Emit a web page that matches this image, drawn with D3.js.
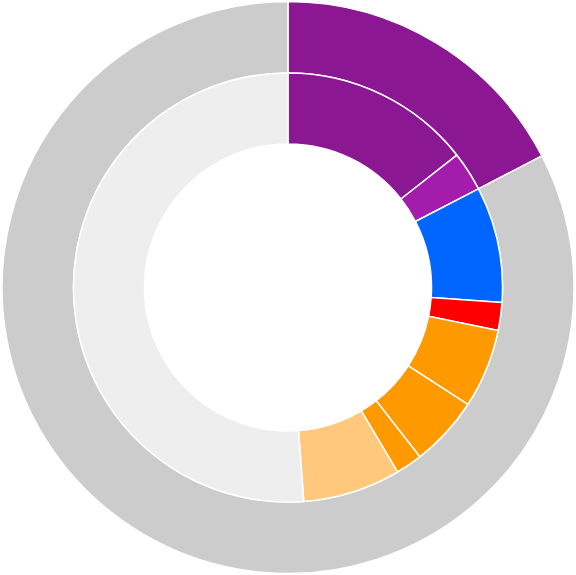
<!DOCTYPE html>
<html><head><meta charset="utf-8">
<script src="https://cdn.jsdelivr.net/npm/d3@7"></script>
<style>html,body{margin:0;padding:0;background:#fff;}svg{display:block;}</style>
</head><body>
<svg id="c" width="576" height="575"></svg>
<script>
const innerLabels = ["A1","A2","B","C","D1","D2","D3","E","Rest"];
const innerValues = [14.42, 2.97, 8.72, 2.11, 5.96, 5.29, 2.0, 7.36, 51.17];
const innerColors = ["#8c1793","#a41cac","#0066ff","#ff0000","#ff9900","#ff9900","#ff9900","#ffc87c","#eeeeee"];
const outerLabels = ["A","Rest"];
const outerValues = [17.39, 82.61];
const outerColors = ["#8c1793","#cccccc"];

const svg = d3.select("#c");
const g = svg.append("g").attr("transform","translate(288,287.5)");
const pie = d3.pie().sort(null).value(d => d.v);

const outerData = pie(outerValues.map((v,i)=>({v, c: outerColors[i], l: outerLabels[i]})));
const innerData = pie(innerValues.map((v,i)=>({v, c: innerColors[i], l: innerLabels[i]})));

const outerArc = d3.arc().innerRadius(214.5).outerRadius(286);
const innerArc = d3.arc().innerRadius(143.5).outerRadius(214.5);

g.selectAll("path.o").data(outerData).join("path").attr("class","o")
  .attr("d", outerArc).attr("fill", d=>d.data.c)
  .attr("stroke","#fff").attr("stroke-width",1.5).attr("stroke-linejoin","round");
g.selectAll("path.i").data(innerData).join("path").attr("class","i")
  .attr("d", innerArc).attr("fill", d=>d.data.c)
  .attr("stroke","#fff").attr("stroke-width",1.5).attr("stroke-linejoin","round");
</script>
</body></html>
